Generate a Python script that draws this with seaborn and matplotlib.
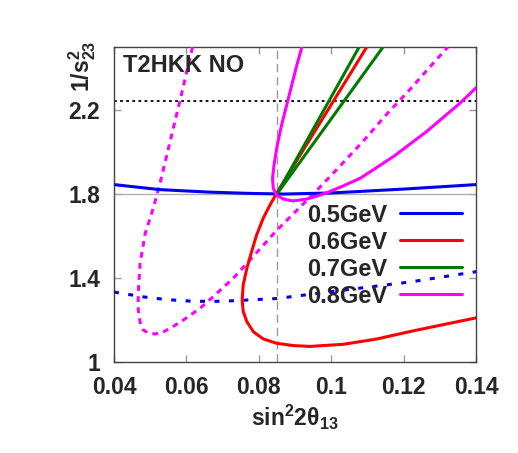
import matplotlib
matplotlib.use("Agg")
import pandas as pd
import matplotlib.pyplot as plt
import seaborn as sns

# curves (x = sin^2 2theta13, y = 1/s23^2)
blue_solid_x = [0.04, 0.0527, 0.0665, 0.0776, 0.087, 0.10, 0.1204, 0.14]
blue_solid_y = [1.845, 1.821, 1.809, 1.803, 1.800, 1.805, 1.824, 1.845]

blue_dash_x = [0.04, 0.0481, 0.0546, 0.0619, 0.0698, 0.0849, 0.1033, 0.1218, 0.14]
blue_dash_y = [1.333, 1.310, 1.297, 1.289, 1.289, 1.302, 1.342, 1.381, 1.43]

red_x = [0.1098, 0.0849, 0.0831, 0.0812, 0.0794, 0.0780, 0.0767, 0.0757, 0.0754, 0.0757,
         0.0767, 0.0785, 0.0812, 0.0849, 0.0895, 0.0941, 0.1033, 0.1125, 0.1218, 0.131, 0.14]
red_y = [2.5, 1.803, 1.748, 1.684, 1.605, 1.525, 1.446, 1.367, 1.295, 1.240,
         1.192, 1.144, 1.110, 1.089, 1.078, 1.074, 1.084, 1.109, 1.145, 1.178, 1.21]

green_x = [0.1077, 0.085, 0.1143]
green_y = [2.5, 1.80, 2.5]

mag_x = [0.0919, 0.0905, 0.0891, 0.0877, 0.0863, 0.0851, 0.0842, 0.0838, 0.0840, 0.0849,
         0.0868, 0.0895, 0.0932, 0.0964, 0.0991, 0.1035, 0.1081, 0.1173, 0.1265, 0.1357, 0.14]
mag_y = [2.5, 2.414, 2.319, 2.224, 2.129, 2.033, 1.938, 1.875, 1.827, 1.795,
         1.776, 1.767, 1.776, 1.792, 1.808, 1.84, 1.876, 1.98, 2.10, 2.235, 2.306]

mag_dash_x = [0.0617, 0.0582, 0.0527, 0.0508, 0.0486, 0.0472, 0.0467, 0.0467, 0.0472, 0.0481,
              0.0495, 0.0513, 0.0535, 0.0555, 0.0592, 0.0638, 0.0674, 0.073, 0.0771, 0.0849,
              0.0964, 0.1029, 0.1089, 0.1153, 0.1213, 0.1305, 0.1322]
mag_dash_y = [2.5, 2.243, 1.85, 1.73, 1.61, 1.468, 1.325, 1.25, 1.191, 1.152,
              1.138, 1.133, 1.142, 1.16, 1.20, 1.256, 1.311, 1.40, 1.477, 1.626,
              1.824, 1.942, 2.053, 2.18, 2.29, 2.468, 2.5]

energies = ["0.5GeV", "0.6GeV", "0.7GeV", "0.8GeV"]
xticks = [0.04, 0.06, 0.08, 0.1, 0.12, 0.14]
xticklabels = ["0.04", "0.06", "0.08", "0.1", "0.12", "0.14"]
yticks = [1, 1.4, 1.8, 2.2]
yticklabels = ["1", "1.4", "1.8", "2.2"]
true_x = 0.085
true_y = 1.80
s23_line = 2.243

sns.set_style("ticks")
plt.rcParams["font.family"] = ["Liberation Sans", "DejaVu Sans"]
plt.rcParams["font.weight"] = "bold"
plt.rcParams["mathtext.fontset"] = "custom"
plt.rcParams["mathtext.bf"] = "Liberation Sans:bold"
plt.rcParams["mathtext.rm"] = "Liberation Sans:bold"
plt.rcParams["mathtext.default"] = "bf"
plt.rcParams["lines.scale_dashes"] = False

fig = plt.figure(figsize=(5.18, 4.53), dpi=100)
ax = fig.add_axes([0.220, 0.201, 0.699, 0.695])

# reference lines
ax.axhline(true_y, color="#b0b0b0", lw=1, zorder=1)
ax.axvline(true_x, color="#9a9a9a", lw=1, linestyle=(0, (6, 3.5)), zorder=1)
ax.axhline(s23_line, color="black", lw=1.3, linestyle=(0, (2, 2.4)), zorder=1)


def draw(x, y, color, ls="-", label=None):
    d = pd.DataFrame({"x": x, "y": y})
    sns.lineplot(data=d, x="x", y="y", sort=False, estimator=None, color=color,
                 lw=2.2, linestyle=ls, label=label, ax=ax, zorder=3)
    line = ax.lines[-1]
    line.set_solid_joinstyle("round")
    return line


draw(blue_dash_x, blue_dash_y, "#0000ee", ls=(0, (3.6, 6.8)))
draw(mag_dash_x, mag_dash_y, "#ff00ff", ls=(0, (4.2, 3.8)))
h1 = draw(blue_solid_x, blue_solid_y, "#0000ee", label=energies[0])
h2 = draw(red_x, red_y, "#ff0000", label=energies[1])
h3 = draw(green_x, green_y, "#007a00", label=energies[2])
h4 = draw(mag_x, mag_y, "#ff00ff", label=energies[3])

ax.set_xlim(0.04, 0.14)
ax.set_ylim(1, 2.5)
ax.set_xticks(xticks)
ax.set_xticklabels(xticklabels)
ax.set_yticks(yticks)
ax.set_yticklabels(yticklabels)
ax.tick_params(direction="in", top=True, right=True, length=5, width=1,
               color="#999999", labelsize=16.5, pad=10)
for s in ax.spines.values():
    s.set_visible(True)
    s.set_color("#444444")
    s.set_linewidth(1)

ax.set_xlabel(r"sin$^{2}$2$\theta_{13}$", fontsize=16.5, fontweight="bold", labelpad=3)
ax.set_ylabel("")
fig.text(0.158, 0.853, r"1/s$^{2}_{23}$", rotation=90, ha="center", va="center",
         fontsize=16.5, fontweight="bold")

ax.text(0.025, 0.921, "T2HKK NO", transform=ax.transAxes, fontsize=17,
        fontweight="bold", va="baseline", ha="left")

ax.legend([h1, h2, h3, h4], energies, loc="upper right", bbox_to_anchor=(0.961, 0.503),
          frameon=False, markerfirst=False, fontsize=17, handlelength=2.63,
          handletextpad=0.55, labelspacing=0.17, borderpad=0, borderaxespad=0)

fig.savefig("out.png", dpi=100)
